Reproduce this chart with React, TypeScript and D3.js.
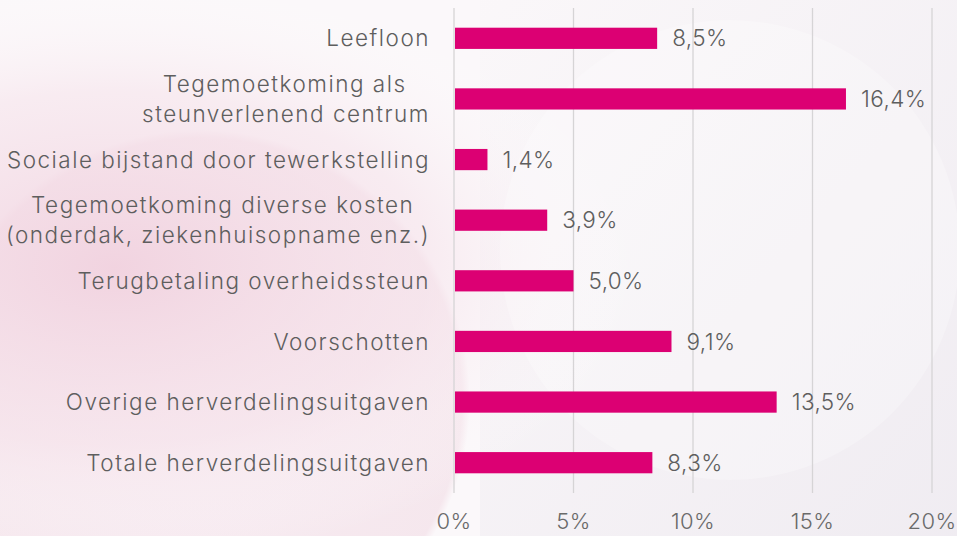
import React from "react";
import * as d3 from "d3";

const categories: string[][] = [
  ["Leefloon"],
  ["Tegemoetkoming als\u00A0\u00A0\u00A0", "steunverlenend centrum"],
  ["Sociale bijstand door tewerkstelling"],
  ["Tegemoetkoming diverse kosten\u00A0\u00A0", "(onderdak, ziekenhuisopname enz.)"],
  ["Terugbetaling overheidssteun"],
  ["Voorschotten"],
  ["Overige herverdelingsuitgaven"],
  ["Totale herverdelingsuitgaven"],
];
const values: number[] = [8.5, 16.4, 1.4, 3.9, 5.0, 9.1, 13.5, 8.3];
const ticks: number[] = [0, 5, 10, 15, 20];

const W = 957;
const H = 536;
const FONT = "Inter, 'Open Sans', sans-serif";

export default function App() {
  const x = d3.scaleLinear().domain([0, 20]).range([454, 932]);
  const y = d3
    .scaleBand<number>()
    .domain(d3.range(categories.length))
    .range([8, 493])
    .paddingInner(0.65)
    .paddingOuter(0.325);
  const fmt = (v: number) => v.toFixed(1).replace(".", ",") + "%";

  return (
    <svg
      width={W}
      height={H}
      style={{ position: "absolute", left: 0, top: 0, display: "block" }}
    >
      <defs>
        <radialGradient id="pinkL" cx="0.12" cy="0.5" r="0.55">
          <stop offset="0" stopColor="#f1d2df" stopOpacity="0.95" />
          <stop offset="0.6" stopColor="#f6e3eb" stopOpacity="0.6" />
          <stop offset="1" stopColor="#ffffff" stopOpacity="0" />
        </radialGradient>
        <radialGradient id="circ" cx="0.5" cy="0.5" r="0.5">
          <stop offset="0" stopColor="#f6e6ee" stopOpacity="0.7" />
          <stop offset="0.97" stopColor="#f3e0e8" stopOpacity="0.7" />
          <stop offset="1" stopColor="#f3e0e8" stopOpacity="0" />
        </radialGradient>
        <linearGradient id="rightG" x1="0" y1="0" x2="1" y2="1">
          <stop offset="0" stopColor="#faf7f9" />
          <stop offset="1" stopColor="#ebe7ee" />
        </linearGradient>
      </defs>
      <rect x={0} y={0} width={W} height={H} fill="#fbf8fa" />
      <rect x={480} y={0} width={W - 480} height={H} fill="url(#rightG)" opacity={0.7} />
      <circle cx={200} cy={400} r={270} fill="url(#circ)" />
      <rect x={0} y={0} width={W} height={H} fill="url(#pinkL)" />
      <circle cx={730} cy={250} r={230} fill="#ffffff" opacity={0.25} />

      {ticks.map((t) => (
        <line
          key={"g" + t}
          x1={x(t)}
          x2={x(t)}
          y1={8}
          y2={493}
          stroke="#d6d4d6"
          strokeWidth={1.3}
        />
      ))}

      {values.map((v, i) => (
        <rect
          key={"b" + i}
          x={x(0) + 1}
          y={y(i)!}
          width={x(v) - x(0) - 1}
          height={y.bandwidth()}
          fill="#dc0073"
        />
      ))}

      {values.map((v, i) => (
        <text
          key={"v" + i}
          x={x(v) + 15}
          y={y(i)! + y.bandwidth() / 2}
          dy="0.36em"
          fontFamily={FONT}
          fontWeight={300}
          fontSize={22.5}
          letterSpacing={0.4}
          fill="#5e5e5e"
        >
          {fmt(v)}
        </text>
      ))}

      {categories.map((lines, i) => {
        const cy = y(i)! + y.bandwidth() / 2;
        const lh = 30;
        const start = cy - ((lines.length - 1) * lh) / 2;
        return (
          <text
            key={"c" + i}
            textAnchor="end"
            fontFamily={FONT}
            fontWeight={300}
            fontSize={22.5}
            letterSpacing={1.5}
            fill="#5e5e5e"
            style={{ whiteSpace: "pre" }}
          >
            {lines.map((l, j) => (
              <tspan key={j} x={430} y={start + j * lh} dy="0.36em">
                {l}
              </tspan>
            ))}
          </text>
        );
      })}

      {ticks.map((t) => (
        <text
          key={"t" + t}
          x={x(t)}
          y={521}
          dy="0.36em"
          textAnchor="middle"
          fontFamily={FONT}
          fontWeight={300}
          fontSize={22}
          letterSpacing={0.4}
          fill="#6a6a6a"
        >
          {t + "%"}
        </text>
      ))}
    </svg>
  );
}
